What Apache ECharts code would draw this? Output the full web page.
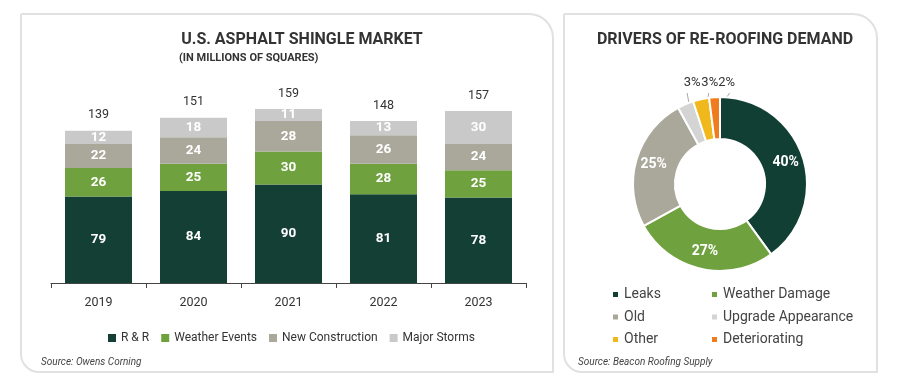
<!DOCTYPE html>
<html><head><meta charset="utf-8">
<script src="https://cdn.jsdelivr.net/npm/echarts@6/dist/echarts.min.js"></script>
<style>html,body{margin:0;padding:0;background:#fff}#c{width:900px;height:382px}</style>
</head><body><div id="c"></div>
<script>
// ---- Data ----
const years = ['2019', '2020', '2021', '2022', '2023'];
const rr = [79, 84, 90, 81, 78];
const weatherEvents = [26, 25, 30, 28, 25];
const newConstruction = [22, 24, 28, 26, 24];
const majorStorms = [12, 18, 11, 13, 30];
const totals = [139, 151, 159, 148, 157];
const barSeriesNames = ['R & R', 'Weather Events', 'New Construction', 'Major Storms'];

const driverNames = ['Leaks', 'Weather Damage', 'Old', 'Upgrade Appearance', 'Other', 'Deteriorating'];
const driverValues = [40, 27, 25, 3, 3, 2];
const legendColLeft = ['Leaks', 'Old', 'Other'];
const legendColRight = ['Weather Damage', 'Upgrade Appearance', 'Deteriorating'];

// ---- Styles ----
const FONT = 'Roboto';
const barColors = ['#143f35', '#6fa23f', '#aaa89b', '#c9c9c9'];
const pieColors = ['#123f33', '#6fa23f', '#aaa89b', '#d4d4d4', '#f0b81c', '#ef7d1e'];
const PIE_C = [720, 184];
const PIE_R = [45, 87];

const chart = echarts.init(document.getElementById('c'), null, {renderer: 'canvas'});

const segLabel = {show: true, position: 'inside', color: '#fff', fontWeight: 'bold', fontSize: 13.5, fontFamily: FONT};
const barData = [rr, weatherEvents, newConstruction, majorStorms];
const barSeries = barData.map((d, i) => ({
  name: barSeriesNames[i], type: 'bar', stack: 'a', barWidth: 67,
  itemStyle: {color: barColors[i]}, label: segLabel, data: d
}));
barSeries.push({
  name: 'Total', type: 'bar', stack: 'a', barWidth: 67, data: totals.map(() => 0),
  itemStyle: {color: 'transparent'},
  label: {show: true, position: 'top', distance: 9, color: '#333', fontSize: 12.5, fontFamily: FONT,
    formatter: p => totals[p.dataIndex]}
});

// cumulative fractions for leader line targets
const totalPct = driverValues.reduce((a, b) => a + b, 0);
const midAngles = [];
{ let acc = 0; driverValues.forEach(v => { midAngles.push((acc + v / 2) / totalPct * 2 * Math.PI); acc += v; }); }

const pieData = driverNames.map((n, i) => {
  const small = driverValues[i] < 5;
  return {
    name: n, value: driverValues[i], itemStyle: {color: pieColors[i]},
    label: small ? {position: 'outside', color: '#333', fontSize: 13, fontWeight: 'normal', formatter: '{c}%'}
                 : {position: 'inside', color: '#fff', fontSize: 14, fontWeight: 'bold', formatter: '{c}%'},
    labelLine: small ? {show: true, lineStyle: {color: '#aaa', width: 1}} : {show: false}
  };
});

const pieLegendBase = {orient: 'vertical', top: 281, itemWidth: 7, itemHeight: 7, itemGap: 5.5,
  itemTextGap: 5, icon: 'rect', textStyle: {fontSize: 14, color: '#444', lineHeight: 17, fontFamily: FONT}};

const option = {
  animation: false,
  textStyle: {fontFamily: FONT},
  graphic: [
    {type: 'rect', shape: {x: 21, y: 14, width: 532, height: 358, r: [0, 24, 0, 18]},
     style: {fill: '#fff', stroke: '#e1e1e1', lineWidth: 2}, z: -10},
    {type: 'rect', shape: {x: 564, y: 14, width: 313, height: 358, r: [0, 24, 0, 18]},
     style: {fill: '#fff', stroke: '#e1e1e1', lineWidth: 2}, z: -10},
    {type: 'text', left: 41, top: 357, style: {text: 'Source: Owens Corning', fill: '#444', font: 'italic 10px Roboto'}},
    {type: 'text', left: 578, top: 357, style: {text: 'Source: Beacon Roofing Supply', fill: '#444', font: 'italic 10px Roboto'}}
  ],
  title: [
    {text: 'U.S. ASPHALT SHINGLE MARKET', left: 297, top: 27, textAlign: 'center',
     textStyle: {fontSize: 16, fontWeight: 'bold', color: '#333', fontFamily: FONT}},
    {text: '(IN MILLIONS OF SQUARES)', left: 174, top: 48,
     textStyle: {fontSize: 11, fontWeight: 'bold', color: '#333', fontFamily: FONT}},
    {text: 'DRIVERS OF RE-ROOFING DEMAND', left: 720, top: 27, textAlign: 'center',
     textStyle: {fontSize: 16, fontWeight: 'bold', color: '#333', fontFamily: FONT}}
  ],
  legend: [
    {data: barSeriesNames, left: 103, top: 327, itemWidth: 8, itemHeight: 8, itemGap: 12, itemTextGap: 3,
     icon: 'rect', textStyle: {fontSize: 12, color: '#333', fontFamily: FONT}},
    Object.assign({data: legendColLeft, left: 606}, pieLegendBase),
    Object.assign({data: legendColRight, left: 705}, pieLegendBase)
  ],
  grid: {left: 51, right: 374, top: 64, bottom: 99},
  xAxis: {type: 'category', data: years,
    axisLine: {lineStyle: {color: '#444', width: 1}},
    axisTick: {show: true, length: 5, lineStyle: {color: '#444'}},
    axisLabel: {color: '#333', fontSize: 12.5, margin: 13, fontFamily: FONT}},
  yAxis: {type: 'value', min: 0, max: 200, show: false, splitLine: {show: false}},
  series: barSeries.concat([{
    type: 'pie', center: PIE_C, radius: PIE_R, startAngle: 90, clockwise: true,
    avoidLabelOverlap: false, legendHoverLink: false,
    itemStyle: {borderColor: '#fff', borderWidth: 2},
    labelLine: {length: 6, length2: 0},
    labelLayout: function (p) {
      const i = p.dataIndex;
      if (driverValues[i] >= 5) return {};
      const cx = p.rect.x + p.rect.width / 2 + (i - 3) * 6;
      const ty = 76;
      const a = midAngles[i];
      const r = 70;
      const ex = PIE_C[0] + r * Math.sin(a), ey = PIE_C[1] - r * Math.cos(a);
      return {x: cx, y: ty, align: 'center', verticalAlign: 'top',
        labelLinePoints: [[cx - 5 + (i - 3) * 4, ty + 17], [ex, ey], [ex, ey]]};
    },
    data: pieData
  }])
};
chart.setOption(option);
</script></body></html>
